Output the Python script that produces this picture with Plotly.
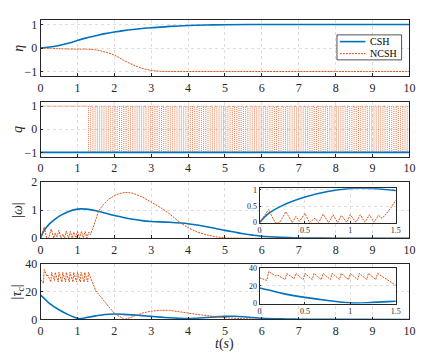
import plotly.graph_objects as go

# ---- data ----
eta_t = [0, 0.25, 0.5, 0.75, 1.0, 1.25, 1.5, 1.75, 2.0, 2.25, 2.5, 2.75, 3.0, 3.5, 4.0, 4.5, 5.0, 6.0, 7.0, 8.0, 9.0, 10.0]
eta_csh = [0, 0.04, 0.11, 0.2, 0.32, 0.43, 0.52, 0.61, 0.68, 0.74, 0.79, 0.83, 0.86, 0.92, 0.96, 0.98, 0.99, 1.0, 1.0, 1.0, 1.0, 1.0]
eta_ncsh_t = [0, 0.5, 1.0, 1.25, 1.5, 1.75, 2.0, 2.25, 2.5, 2.75, 3.0, 3.25, 3.5, 4.0, 5.0, 6.0, 8.0, 10.0]
eta_ncsh = [0, -0.03, -0.05, -0.05, -0.08, -0.17, -0.3, -0.52, -0.71, -0.86, -0.95, -0.99, -1.0, -1.0, -1.0, -1.0, -1.0, -1.0]

q_csh_t = [0, 10]
q_csh = [-1, -1]
q_switch_t = [
    1.30, 1.36, 1.42, 1.48, 1.54, 1.60, 1.66, 1.72, 1.78, 1.84,
    1.90, 1.96, 2.02, 2.08, 2.14, 2.20, 2.26, 2.32, 2.38, 2.44,
    2.50, 2.56, 2.62, 2.68, 2.74, 2.80, 2.86, 2.92, 2.98, 3.04,
    3.10, 3.16, 3.22, 3.28, 3.34, 3.40, 3.46, 3.52, 3.58, 3.64,
    3.70, 3.76, 3.82, 3.88, 3.94, 4.00, 4.06, 4.12, 4.18, 4.24,
    4.30, 4.36, 4.42, 4.48, 4.54, 4.60, 4.66, 4.72, 4.78, 4.84,
    4.90, 4.96, 5.02, 5.08, 5.14, 5.20, 5.26, 5.32, 5.38, 5.44,
    5.50, 5.56, 5.62, 5.68, 5.74, 5.80, 5.86, 5.92, 5.98, 6.04,
    6.10, 6.16, 6.22, 6.28, 6.34, 6.40, 6.46, 6.52, 6.58, 6.64,
    6.70, 6.76, 6.82, 6.88, 6.94, 7.00, 7.06, 7.12, 7.18, 7.24,
    7.30, 7.36, 7.42, 7.48, 7.54, 7.60, 7.66, 7.72, 7.78, 7.84,
    7.90, 7.96, 8.02, 8.08, 8.14, 8.20, 8.26, 8.32, 8.38, 8.44,
    8.50, 8.56, 8.62, 8.68, 8.74, 8.80, 8.86, 8.92, 8.98, 9.04,
    9.10, 9.16, 9.22, 9.28, 9.34, 9.40, 9.46, 9.52, 9.58, 9.64,
    9.70, 9.76, 9.82, 9.88, 9.94]

w_csh_t = [0, 0.1, 0.25, 0.5, 0.75, 1.0, 1.1, 1.25, 1.5, 1.75, 2.0, 2.25, 2.5, 2.75, 3.0, 3.5, 4.0,
           4.25, 4.5, 4.75, 5.0, 5.25, 5.5, 5.75, 6.0, 6.5, 7.0, 7.5, 8.0, 10.0]
w_csh = [0, 0.28, 0.52, 0.78, 0.95, 1.04, 1.05, 1.04, 0.98, 0.9, 0.81, 0.74, 0.68, 0.63, 0.6, 0.57, 0.52,
         0.47, 0.41, 0.35, 0.28, 0.22, 0.16, 0.11, 0.07, 0.03, 0.01, 0.005, 0, 0]
w_ncsh_t = [0, 0.1, 0.17, 0.22, 0.29, 0.36, 0.4, 0.44, 0.5, 0.55, 0.61, 0.65, 0.7, 0.76, 0.81, 0.86,
            0.9, 0.96, 1.0, 1.06, 1.11, 1.16, 1.21, 1.26, 1.31, 1.35, 1.42, 1.5, 1.57, 1.7, 1.85, 2.0,
            2.15, 2.3, 2.5, 2.75, 3.0, 3.25, 3.5, 3.8, 4.0, 4.25, 4.5, 4.75, 5.0, 5.5, 10.0]
w_ncsh = [0, 0.4, 0.0, 0.0, 0.33, 0.0, 0.19, 0.04, 0.28, 0.0, 0.14, 0.0, 0.26, 0.0, 0.24, 0.0,
          0.22, 0.01, 0.24, 0.01, 0.24, 0.01, 0.24, 0.01, 0.22, 0.13, 0.35, 0.68, 0.96, 1.2, 1.4, 1.52,
          1.6, 1.64, 1.61, 1.48, 1.3, 1.1, 0.87, 0.54, 0.38, 0.22, 0.12, 0.05, 0.01, 0, 0]

tau_csh_t = [0, 0.1, 0.25, 0.5, 0.75, 1.0, 1.05, 1.1, 1.25, 1.5, 1.75, 2.0, 2.25, 2.5, 2.75, 3.0, 3.25,
             3.5, 3.75, 4.0, 4.25, 4.5, 4.75, 5.0, 5.25, 5.5, 5.75, 6.0, 6.5, 7.0, 8.0, 10.0]
tau_csh = [17.5, 15.2, 11.5, 7.0, 3.5, 0.8, 0.5, 0.6, 1.4, 2.6, 3.6, 3.9, 3.7, 3.3, 2.8, 2.2, 1.7,
           1.2, 0.8, 0.6, 0.9, 1.4, 1.9, 2.2, 2.3, 2.0, 1.4, 0.9, 0.4, 0.2, 0.05, 0]
tau_ncsh_t = [0, 0.08, 0.1, 0.18, 0.2, 0.28, 0.3, 0.38, 0.4, 0.48, 0.5, 0.58, 0.6, 0.68, 0.7, 0.78,
              0.8, 0.88, 0.9, 0.98, 1.0, 1.08, 1.1, 1.18, 1.2, 1.28, 1.3, 1.4, 1.5, 1.75, 2.0, 2.15,
              2.27, 2.5, 2.75, 3.0, 3.25, 3.5, 3.75, 4.0, 4.25, 4.5, 4.75, 5.0, 5.5, 6.0, 7.0, 10.0]
tau_ncsh = [29, 26, 36, 31, 32, 27, 34, 28, 34, 27, 34, 27, 34, 27, 34, 27,
            34, 27, 34, 27, 34, 27, 34, 27, 34, 27, 34, 27, 20.6, 12.5, 4.4, 2.0,
            0, 2.0, 4.5, 6.0, 6.6, 6.6, 5.8, 4.6, 3.6, 2.7, 1.9, 1.3, 0.5, 0.1, 0, 0]

series_names = ['CSH', 'NCSH']

# ---- figure ----
BLUE = '#0072BD'
ORANGE = '#D95319'
AX = '#262626'
FONT = 'Liberation Serif'
W, H = 436, 363
ODASH = '2px,1px'

# q for NCSH built as a step signal from the switching times
q_ncsh_t = [0] + q_switch_t + [10]
q_ncsh = [1]
for i in range(len(q_switch_t)):
    q_ncsh.append(-q_ncsh[-1])
q_ncsh.append(q_ncsh[-1])

fig = go.Figure()

def blue(x, y, xa, ya, shape='spline'):
    fig.add_trace(go.Scatter(x=x, y=y, mode='lines', name=series_names[0], showlegend=False,
                             line=dict(color=BLUE, width=1.6, shape=shape), xaxis=xa, yaxis=ya))

def orange(x, y, xa, ya, shape='linear', dash=ODASH, width=1):
    fig.add_trace(go.Scatter(x=x, y=y, mode='lines', name=series_names[1], showlegend=False,
                             line=dict(color=ORANGE, width=width, dash=dash, shape=shape),
                             xaxis=xa, yaxis=ya))

blue(eta_t, eta_csh, 'x', 'y')
orange(eta_ncsh_t, eta_ncsh, 'x', 'y', shape='spline')
orange(q_ncsh_t, q_ncsh, 'x2', 'y2', shape='hv', dash='1px,1px', width=0.8)
blue(q_csh_t, q_csh, 'x2', 'y2', shape='linear')
blue(w_csh_t, w_csh, 'x3', 'y3')
orange(w_ncsh_t, w_ncsh, 'x3', 'y3')
blue(tau_csh_t, tau_csh, 'x4', 'y4')
orange(tau_ncsh_t, tau_ncsh, 'x4', 'y4')
# insets
blue(w_csh_t, w_csh, 'x5', 'y5')
orange(w_ncsh_t, w_ncsh, 'x5', 'y5')
blue(tau_csh_t, tau_csh, 'x6', 'y6')
orange(tau_ncsh_t, tau_ncsh, 'x6', 'y6')

def px_x(a, b):
    return [a / W, b / W]

def px_y(top, bottom):
    return [1 - bottom / H, 1 - top / H]

axis_style = dict(showline=True, mirror=True, linecolor=AX, linewidth=0.8, ticks='inside',
                  ticklen=3, tickcolor=AX, gridcolor='#dedede', griddash='dot', zeroline=False,
                  tickfont=dict(family=FONT, size=12, color=AX))
inset_style = dict(axis_style, ticklen=2, tickfont=dict(family=FONT, size=8, color=AX))

main_x = px_x(38.3, 415)
rows = [(13.3, 72), (98.3, 156), (182.3, 240.5), (267.3, 325)]
yranges = [[-1.2, 1.2], [-1.2, 1.2], [0, 2], [0, 40]]
yticks = [[-1, 0, 1], [-1, 0, 1], [0, 1, 2], [0, 20, 40]]

layout = {}
for i in range(4):
    n = '' if i == 0 else str(i + 1)
    layout['xaxis' + n] = dict(axis_style, domain=main_x, anchor='y' + n, range=[0, 10],
                               tickvals=list(range(11)))
    layout['yaxis' + n] = dict(axis_style, domain=px_y(*rows[i]), anchor='x' + n,
                               range=yranges[i], tickvals=yticks[i])

inset_x = px_x(262, 401)
layout['xaxis5'] = dict(inset_style, domain=inset_x, anchor='y5', range=[0, 1.5],
                        tickvals=[0, 0.5, 1, 1.5], ticktext=['0', '0.5', '1', '1.5'])
layout['yaxis5'] = dict(inset_style, domain=px_y(188.5, 224.3), anchor='x5', range=[0, 1.05],
                        tickvals=[0, 0.5, 1], ticktext=['0', '0.5', '1'])
layout['xaxis6'] = dict(inset_style, domain=inset_x, anchor='y6', range=[0, 1.5],
                        tickvals=[0, 0.5, 1, 1.5], ticktext=['0', '0.5', '1', '1.5'])
layout['yaxis6'] = dict(inset_style, domain=px_y(271.5, 308.5), anchor='x6', range=[0, 40],
                        tickvals=[0, 20, 40])

ylabels = ['<i>η</i>', '<i>q</i>', '|<i>ω</i>|', '|<i>τ</i><sub><i>c</i></sub>|']
annotations = []
for i, lab in enumerate(ylabels):
    top, bottom = rows[i]
    annotations.append(dict(text=lab, x=15 / W, y=1 - (top + bottom) / 2 / H, xref='paper',
                            yref='paper', showarrow=False, textangle=-90,
                            xanchor='center', yanchor='middle',
                            font=dict(family=FONT, size=14, color=AX)))
annotations.append(dict(text='<i>t</i>(<i>s</i>)', x=226 / W, y=1 - 350 / H, xref='paper',
                        yref='paper', showarrow=False, xanchor='center', yanchor='middle',
                        font=dict(family=FONT, size=14, color=AX)))

# legend box in the first panel (MATLAB style)
shapes = [dict(type='rect', xref='paper', yref='paper', x0=341 / W, x1=407 / W,
               y0=1 - 55 / H, y1=1 - 29 / H, line=dict(color=AX, width=0.8),
               fillcolor='white', layer='above')]
leg_y = [36, 48.5]
leg_col = [BLUE, ORANGE]
leg_dash = ['solid', ODASH]
leg_w = [1.6, 1]
for k in range(2):
    shapes.append(dict(type='line', xref='paper', yref='paper', x0=344 / W, x1=370 / W,
                       y0=1 - leg_y[k] / H, y1=1 - leg_y[k] / H, layer='above',
                       line=dict(color=leg_col[k], width=leg_w[k], dash=leg_dash[k])))
    annotations.append(dict(text=series_names[k], x=373 / W, y=1 - leg_y[k] / H,
                            xref='paper', yref='paper', showarrow=False,
                            xanchor='left', yanchor='middle',
                            font=dict(family=FONT, size=10, color='black')))

fig.update_layout(layout)
fig.update_layout(
    width=W, height=H, margin=dict(l=0, r=0, t=0, b=0),
    paper_bgcolor='white', plot_bgcolor='white',
    annotations=annotations, shapes=shapes, showlegend=False,
)

fig.write_html("out.html", config={'displayModeBar': False},
               post_script="document.body.style.margin='0';document.body.style.overflow='hidden';")
